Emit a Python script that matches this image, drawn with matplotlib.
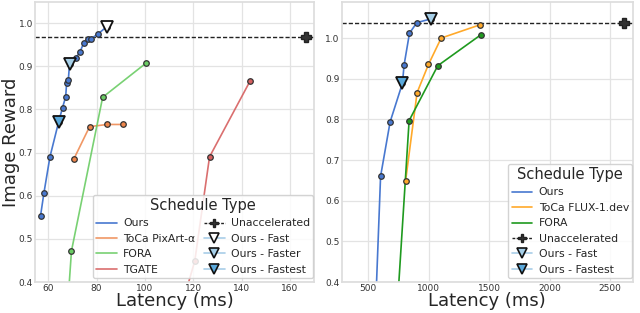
import matplotlib
matplotlib.use("Agg")
import matplotlib.pyplot as plt
import seaborn as sns

sns.set_theme(style="whitegrid")
plt.rcParams['font.family'] = ['DejaVu Sans']

# ---- Left panel (PixArt-alpha) ----
L_ours_lat = [56.8, 58.2, 60.7, 64.3, 65.9, 67.2, 67.6, 68.3, 68.8, 71.3, 73.2, 74.6, 76.4, 77.5, 80.4, 84.1]
L_ours_rew = [0.553, 0.606, 0.690, 0.771, 0.804, 0.829, 0.861, 0.868, 0.905, 0.918, 0.934, 0.953, 0.962, 0.963, 0.974, 0.991]
L_toca_lat = [70.5, 77.1, 84.4, 90.8]
L_toca_rew = [0.684, 0.760, 0.765, 0.765]
L_fora_lat = [67.6, 69.6, 82.5, 100.4]
L_fora_rew = [0.31, 0.472, 0.828, 0.907]
L_tgate_lat = [115.5, 120.6, 126.7, 143.5]
L_tgate_rew = [0.35, 0.449, 0.690, 0.866]
L_unacc_lat = 166.4
L_unacc_rew = 0.967
L_fast = (84.1, 0.991)
L_faster = (68.8, 0.905)
L_fastest = (64.3, 0.771)

# ---- Right panel (FLUX-1.dev) ----
R_ours_lat = [555, 601, 680, 782, 795, 840, 901, 1016]
R_ours_rew = [0.30, 0.660, 0.794, 0.889, 0.933, 1.012, 1.038, 1.047]
R_toca_lat = [808, 903, 997, 1102, 1427]
R_toca_rew = [0.649, 0.866, 0.935, 1.000, 1.033]
R_fora_lat = [731, 837, 1074, 1430]
R_fora_rew = [0.30, 0.797, 0.932, 1.008]
R_unacc_lat = 2612
R_unacc_rew = 1.037
R_fast = (1016, 1.047)
R_fastest = (782, 0.889)

BLUE = "#4878d0"
TRI_LINE = "#a8cde8"
FAST_FC = "white"
FASTER_FC = "#a6cfe8"
FASTEST_FC = "#5aa9dc"

fig = plt.figure(figsize=(6.4, 3.13), dpi=100)
axL = fig.add_axes([0.055, 0.099, 0.436, 0.895])
axR = fig.add_axes([0.534, 0.099, 0.455, 0.895])

def series(ax, x, y, color, label, lw=1.2, alpha=1.0):
    ax.plot(x, y, color=color, lw=lw, alpha=alpha, label=label, zorder=2)
    ax.plot(x, y, ls='none', marker='o', ms=4, mfc=color, mec='#333333', mew=0.9, zorder=3)

def unacc(ax, x, y):
    ax.axhline(y, color='#222222', ls=(0, (3, 1.5)), lw=1.0, zorder=1)
    ax.plot([x], [y], marker='P', ms=7, color='#333333', mec='#222222', ls='none', zorder=4)

def tri(ax, pt, fc):
    ax.plot([pt[0]], [pt[1]], marker='v', ms=8, mfc=fc, mec='#111111', mew=1.3, ls='none', zorder=5)

from matplotlib.lines import Line2D

# Left
series(axL, L_ours_lat, L_ours_rew, BLUE, "Ours")
series(axL, L_toca_lat, L_toca_rew, "#ee854a", "ToCa PixArt-α", alpha=0.85)
series(axL, L_fora_lat, L_fora_rew, "#6acc64", "FORA", alpha=0.9)
series(axL, L_tgate_lat, L_tgate_rew, "#d65f5f", "TGATE", alpha=0.9)
unacc(axL, L_unacc_lat, L_unacc_rew)
tri(axL, L_fast, FAST_FC)
tri(axL, L_faster, FASTER_FC)
tri(axL, L_fastest, FASTEST_FC)
axL.set_xlim(54.6, 170)
axL.set_ylim(0.4, 1.049)
axL.set_xticks([60, 80, 100, 120, 140, 160])
axL.set_yticks([0.4, 0.5, 0.6, 0.7, 0.8, 0.9, 1.0])

# Right
series(axR, R_ours_lat, R_ours_rew, BLUE, "Ours")
series(axR, R_toca_lat, R_toca_rew, "#ffa92a", "ToCa FLUX-1.dev")
series(axR, R_fora_lat, R_fora_rew, "#1f9a1f", "FORA")
unacc(axR, R_unacc_lat, R_unacc_rew)
tri(axR, R_fast, FASTER_FC)
tri(axR, R_fastest, FASTEST_FC)
axR.set_xlim(280, 2688)
axR.set_ylim(0.4, 1.089)
axR.set_xticks([500, 1000, 1500, 2000, 2500])
axR.set_yticks([0.4, 0.5, 0.6, 0.7, 0.8, 0.9, 1.0])

for ax in (axL, axR):
    ax.tick_params(labelsize=6.5, pad=1.5, colors='#333333', length=0)
    ax.set_xlabel("Latency (ms)", fontsize=13, labelpad=-1)
    ax.grid(True, color='#e3e3e3', lw=0.9)
    for s in ax.spines.values():
        s.set_color('#dddddd')
axL.set_ylabel("Image Reward", fontsize=13, labelpad=-1)

def ln(color, alpha=1.0):
    return Line2D([], [], color=color, lw=1.2, alpha=alpha)

un_h = Line2D([], [], color='#222222', ls=(0, (2, 1)), lw=1.0, marker='P', ms=6, mfc='#333333', mec='#222222')
def tri_h(fc):
    return Line2D([], [], color=TRI_LINE, lw=1.2, marker='v', ms=7, mfc=fc, mec='#111111', mew=1.2)

hL = [ln(BLUE), ln("#ee854a", 0.85), ln("#6acc64", 0.9), ln("#d65f5f", 0.9),
      un_h, tri_h(FAST_FC), tri_h(FASTER_FC), tri_h(FASTEST_FC)]
lL = ["Ours", "ToCa PixArt-α", "FORA", "TGATE", "Unaccelerated", "Ours - Fast", "Ours - Faster", "Ours - Fastest"]
legL = axL.legend(hL, lL, ncol=2, loc='lower right', bbox_to_anchor=(0.997, 0.015), borderaxespad=0,
                  fontsize=7.8, title="Schedule Type", title_fontsize=10.5, framealpha=0.85,
                  labelspacing=0.5, columnspacing=0.8, handlelength=1.9, handletextpad=0.6, borderpad=0.3)
legL.set_zorder(10)

hR = [ln(BLUE), ln("#ffa92a"), ln("#1f9a1f"), un_h, tri_h(FASTER_FC), tri_h(FASTEST_FC)]
lR = ["Ours", "ToCa FLUX-1.dev", "FORA", "Unaccelerated", "Ours - Fast", "Ours - Fastest"]
legR = axR.legend(hR, lR, ncol=1, loc='lower right', bbox_to_anchor=(0.997, 0.015), borderaxespad=0,
                  fontsize=7.8, title="Schedule Type", title_fontsize=10.5, framealpha=0.85,
                  labelspacing=0.5, handlelength=1.9, handletextpad=0.6, borderpad=0.3)
legR.set_zorder(10)

fig.savefig("out.png", dpi=100)
